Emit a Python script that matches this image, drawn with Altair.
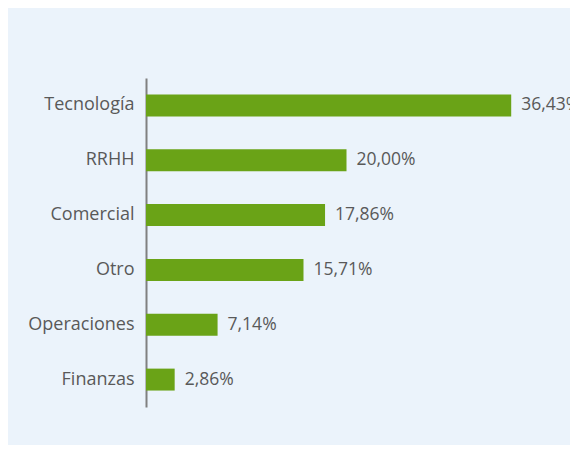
import altair as alt
import pandas as pd

categories = ["Tecnología", "RRHH", "Comercial", "Otro", "Operaciones", "Finanzas"]
values = [36.43, 20.00, 17.86, 15.71, 7.14, 2.86]

df = pd.DataFrame({"area": categories, "pct": values})
df["label"] = [f"{v:.2f}".replace(".", ",") + "%" for v in values]

FONT = "Open Sans"
GRAY = "#595959"

base = alt.Chart(df).encode(
    y=alt.Y(
        "area:N",
        sort=categories,
        title=None,
        scale=alt.Scale(paddingInner=0.6, paddingOuter=0.3),
        axis=alt.Axis(
            domain=True,
            domainColor="#808080",
            domainWidth=2,
            ticks=False,
            labelFont=FONT,
            labelFontSize=18,
            labelColor=GRAY,
            labelPadding=12,
            grid=False,
        ),
    ),
    x=alt.X("pct:Q", title=None, scale=alt.Scale(domain=[0, 40]), axis=None),
)

bars = base.mark_bar(color="#6AA317")
text = base.mark_text(align="left", dx=10, font=FONT, fontSize=17.5, color=GRAY).encode(
    text="label:N"
)

chart = (
    (bars + text)
    .properties(
        width=401,
        height=329,
        background="#EBF3FB",
        padding={"left": 138, "top": 70, "right": 23, "bottom": 38},
        autosize=alt.AutoSizeParams(type="none"),
    )
    .configure_view(stroke=None)
)

chart.save("out.html", embed_options={"renderer": "svg", "actions": False})
